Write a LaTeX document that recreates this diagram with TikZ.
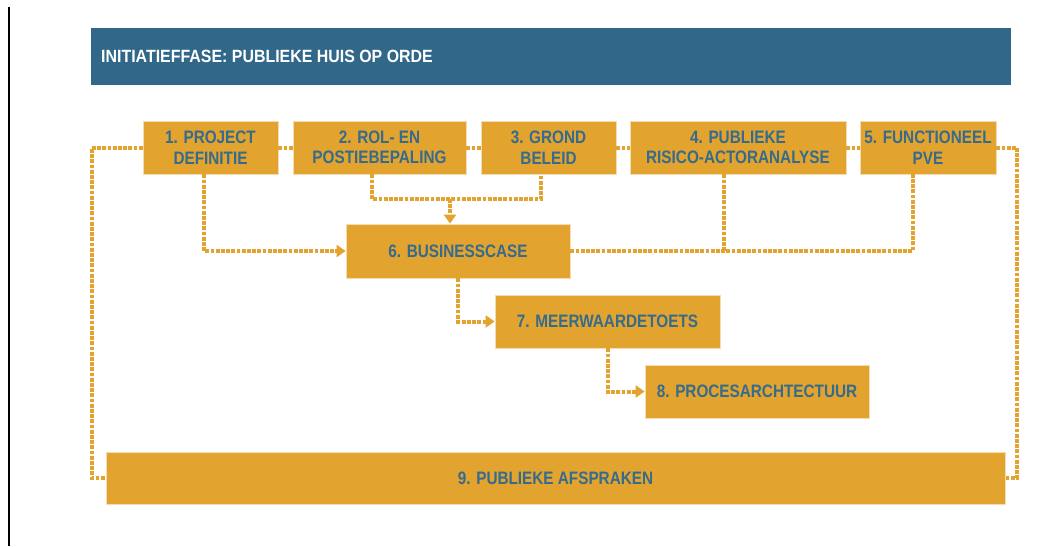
\documentclass[tikz,border=0pt]{standalone}
\usepackage{fontspec}
\setmainfont{Liberation Sans}[FakeStretch=0.85]
\newfontfamily\bannerfont{Liberation Sans}[FakeStretch=0.9]
\usetikzlibrary{arrows.meta}
\definecolor{phase}{HTML}{316889}
\definecolor{ochre}{HTML}{E3A32F}
\definecolor{labelblue}{HTML}{356B8C}
\definecolor{rim}{HTML}{F3DCB2}
\begin{document}
\begin{tikzpicture}[x=1pt,y=-1pt,
  stepbox/.style={rectangle, fill=ochre, draw=rim, line width=0.8pt,
    inner sep=0pt, align=center, text=labelblue,
    font=\bfseries\fontsize{18}{20.5}\selectfont},
  flow/.style={draw=ochre, line width=4pt, dash pattern=on 3.8pt off 1.4pt},
  tip/.style={-{Triangle[length=9pt,width=12pt]}}
]
\useasboundingbox (0,0) rectangle (1057,546);
\fill[white] (0,0) rectangle (1057,546);
\draw[black, line width=2pt] (9,7) -- (9,546);

% phase banner
\node[rectangle, fill=phase, minimum width=920pt, minimum height=57pt, inner sep=0pt]
  (banner) at (551,56.5) {};
\node[anchor=west, text=white, font=\bannerfont\bfseries\fontsize{17.7}{20}\selectfont, inner sep=0pt]
  (title) at (101,56) {INITIATIEFFASE: PUBLIEKE HUIS OP ORDE};

% steps
\node[stepbox, minimum width=135pt, minimum height=53pt] (s1) at (210.5,147.5) {1. PROJECT\\DEFINITIE};
\node[stepbox, minimum width=173pt, minimum height=53pt] (s2) at (379.5,147.5) {2. ROL- EN\\POSTIEBEPALING};
\node[stepbox, minimum width=135pt, minimum height=53pt] (s3) at (548.5,147.5) {3. GROND\\BELEID};
\node[stepbox, minimum width=216pt, minimum height=53pt] (s4) at (738,147.5) {4. PUBLIEKE\\RISICO-ACTORANALYSE};
\node[stepbox, minimum width=136pt, minimum height=53pt] (s5) at (928,147.5) {5. FUNCTIONEEL\\PVE};
\node[stepbox, minimum width=224pt, minimum height=54pt] (s6) at (458,251) {6. BUSINESSCASE};
\node[stepbox, minimum width=225pt, minimum height=53pt] (s7) at (607.5,321.5) {7. MEERWAARDETOETS};
\node[stepbox, minimum width=224pt, minimum height=53pt] (s8) at (757,391.5) {8. PROCESARCHTECTUUR};
\node[stepbox, minimum width=899pt, minimum height=52pt] (s9) at (555.5,478) {9. PUBLIEKE AFSPRAKEN};

% junction points
\coordinate (j23) at (450,199);
\coordinate (lft) at (92,147.5);
\coordinate (rgt) at (1017,147.5);

% top row links
\draw[flow] (s1.east) -- (s2.west);
\draw[flow] (s2.east) -- (s3.west);
\draw[flow] (s3.east) -- (s4.west);
\draw[flow] (s4.east) -- (s5.west);

% into the business case
\draw[flow, tip] ([xshift=-6.5pt]s1.south) |- (s6.west);
\draw[flow] ([xshift=-7.5pt]s2.south) |- (j23) -| ([xshift=-7.5pt]s3.south);
\draw[flow, tip] (j23) -- (j23 |- s6.north);
\draw[flow] (s6.east) -| ([xshift=-15pt]s5.south);
\draw[flow] ([xshift=-14pt]s4.south) -- ([xshift=-14pt]s4.south |- s6.east);

% cascade
\draw[flow, tip] (s6.south) |- (s7.west);
\draw[flow, tip] (s7.south) |- (s8.west);

% loops to the agreements
\draw[flow] (s1.west) -- (lft) |- (s9.west);
\draw[flow] (s5.east) -- (rgt) |- (s9.east);
\end{tikzpicture}
\end{document}
